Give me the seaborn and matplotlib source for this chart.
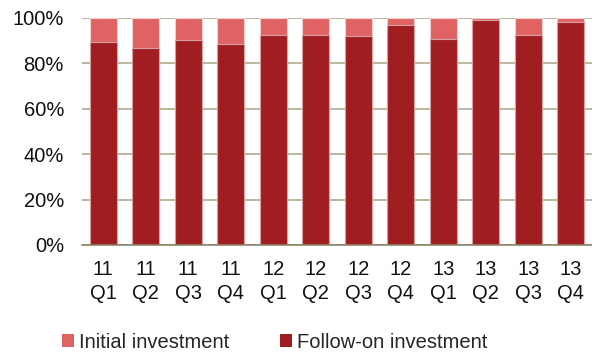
import numpy as np
import pandas as pd
import matplotlib
matplotlib.use('Agg')
import matplotlib.pyplot as plt
from matplotlib.patches import Patch
import seaborn as sns

# 数据
quarters = ['11\nQ1', '11\nQ2', '11\nQ3', '11\nQ4',
            '12\nQ1', '12\nQ2', '12\nQ3', '12\nQ4',
            '13\nQ1', '13\nQ2', '13\nQ3', '13\nQ4']
follow_on = [89.4, 86.7, 90.1, 88.5, 92.4, 92.4, 92.0, 96.8, 90.7, 99.0, 92.4, 98.1]
initial = [10.6, 13.3, 9.9, 11.5, 7.6, 7.6, 8.0, 3.2, 9.3, 1.0, 7.6, 1.9]

c_init = '#e06363'
c_follow = '#a01e22'

sns.set_theme(style='white')
plt.rcParams['font.family'] = ['Liberation Sans', 'DejaVu Sans']

df = pd.DataFrame({'quarter': quarters, 'follow': follow_on, 'initial': initial})
df['total'] = df['follow'] + df['initial']

fig = plt.figure(figsize=(5.92, 3.52), dpi=100)
ax = fig.add_axes([0.1385, 0.304, 0.8615, 0.646])

# 堆叠: 先画总高度(浅色), 再画跟投部分(深色)
sns.barplot(data=df, x='quarter', y='total', color=c_init, width=0.64,
            edgecolor='#f2d0d0', linewidth=0.8, saturation=1, ax=ax, zorder=3)
sns.barplot(data=df, x='quarter', y='follow', color=c_follow, width=0.64,
            edgecolor='#d8a0a0', linewidth=0.8, saturation=1, ax=ax, zorder=4)

ax.set_xlim(-0.5, 11.5)
ax.set_ylim(0, 100)
ax.set_yticks(np.arange(0, 101, 20))
ax.set_yticklabels([f'{v}%' for v in range(0, 101, 20)])
ax.set_xlabel('')
ax.set_ylabel('')
ax.yaxis.grid(True, color='#b0aa90', linewidth=1.2, zorder=0)
ax.set_axisbelow(True)
for s in ['left', 'right', 'top']:
    ax.spines[s].set_visible(False)
ax.spines['bottom'].set_color('#8b8468')
ax.spines['bottom'].set_linewidth(1.2)
ax.spines['bottom'].set_zorder(5)
ax.tick_params(axis='both', length=0, labelsize=14.5, colors='#111111')
ax.tick_params(axis='x', pad=11)
ax.tick_params(axis='y', pad=13)
for lab in ax.get_xticklabels():
    lab.set_linespacing(1.32)

handles = [Patch(facecolor=c_init, edgecolor='none', label='Initial investment'),
           Patch(facecolor=c_follow, edgecolor='none', label='Follow-on investment')]
fig.legend(handles=handles, loc='center left', bbox_to_anchor=(0.105, 0.028), ncol=2,
           frameon=False, fontsize=14.5, handlelength=0.57, handleheight=0.57,
           handletextpad=0.26, columnspacing=2.55, borderpad=0, borderaxespad=0)

fig.savefig('out.png', dpi=100)
